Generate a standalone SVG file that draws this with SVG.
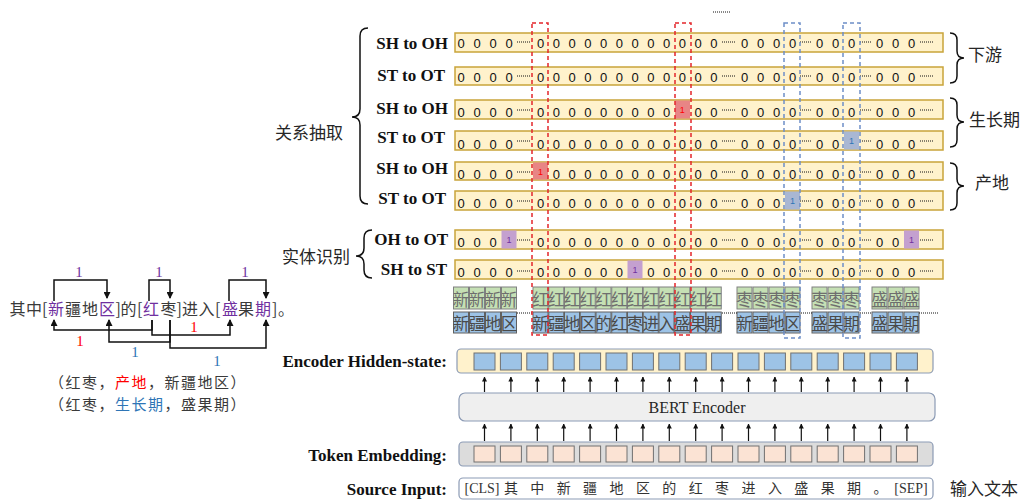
<svg xmlns="http://www.w3.org/2000/svg" width="1021" height="502" viewBox="0 0 1021 502">
<defs>
<style>
.lbl{font-family:"Liberation Serif","Times New Roman",serif;font-weight:bold;font-size:17px;fill:#111}
.cn{font-family:"Noto Sans CJK SC",sans-serif;font-size:17px;fill:#262626}
.bar{fill:#fff2cc;stroke:#c9a43a;stroke-width:1.5}
.dig{font-family:"Liberation Sans",Arial,sans-serif;font-size:13px;fill:#111;text-anchor:middle}
.one{font-family:"Liberation Sans",Arial,sans-serif;font-size:9px;text-anchor:middle}
.dots{stroke:#111;stroke-width:1;stroke-dasharray:1 1;fill:none}
.brace{fill:none;stroke:#111;stroke-width:1.5}
.gt{fill:#c5e0b4;stroke:#808080;stroke-width:1}
.bt{fill:#9dc3e6;stroke:#606060;stroke-width:1}
.tch{font-family:"Noto Sans CJK SC",sans-serif;font-size:16.5px;text-anchor:middle}
.rdash{fill:none;stroke:#e4262b;stroke-width:1.5;stroke-dasharray:4 3}
.bdash{fill:none;stroke:#6d8fc7;stroke-width:1.5;stroke-dasharray:4 3}
.conn{fill:none;stroke:#111;stroke-width:1.5}
.earr{fill:none;stroke:#111;stroke-width:1.2}
.sent{font-family:"Noto Sans CJK SC",sans-serif;font-size:16px;fill:#3a3a3a}
.trip{font-family:"Noto Sans CJK SC",sans-serif;font-size:15px;letter-spacing:1.5px;fill:#3a3a3a;text-anchor:middle}
.num{font-family:"Liberation Serif","Times New Roman",serif;font-size:15px;text-anchor:middle}
.hsq{fill:#9dc3e6;stroke:#707070;stroke-width:1}
.esq{fill:#fbe3d4;stroke:#707070;stroke-width:1}
.src{font-family:"Liberation Serif","Noto Sans CJK SC",serif;font-size:14px;fill:#333;text-anchor:middle}
</style>
<marker id="ah" markerWidth="7" markerHeight="7" refX="6" refY="3.5" orient="auto" markerUnits="userSpaceOnUse"><path d="M0,0 L7,3.5 L0,7 z" fill="#111"/></marker>
<marker id="ahs" markerWidth="5" markerHeight="5" refX="4.5" refY="2.5" orient="auto" markerUnits="userSpaceOnUse"><path d="M0,0 L5,2.5 L0,5 z" fill="#111"/></marker>
</defs>
<rect width="1021" height="502" fill="#fff"/>

<!-- left example -->
<g id="sentence">
<text class="sent" y="315"><tspan x="9.5">其</tspan><tspan x="26">中</tspan><tspan x="42">[</tspan><tspan x="48" fill="#7030a0">新</tspan><tspan x="65">疆</tspan><tspan x="82">地</tspan><tspan x="99" fill="#7030a0">区</tspan><tspan x="115.5">]</tspan><tspan x="120.5">的</tspan><tspan x="137">[</tspan><tspan x="143" fill="#7030a0">红</tspan><tspan x="160.5">枣</tspan><tspan x="176.5">]</tspan><tspan x="182">进</tspan><tspan x="198.5">入</tspan><tspan x="215">[</tspan><tspan x="222" fill="#7030a0">盛</tspan><tspan x="238">果</tspan><tspan x="255" fill="#7030a0">期</tspan><tspan x="272">]</tspan><tspan x="278">。</tspan></text>
</g>
<g id="sentence-links">
<path class="conn" d="M54 301 V280 H107 V298" marker-end="url(#ah)"/>
<path class="conn" d="M149 301 V280 H170 V298" marker-end="url(#ah)"/>
<path class="conn" d="M229 301 V280 H266 V298" marker-end="url(#ah)"/>
<path class="conn" d="M152 320 V330 H54 V320" marker-end="url(#ah)"/>
<path class="conn" d="M152 320 V335 H230 V320" marker-end="url(#ah)"/>
<path class="conn" d="M170 320 V342 H109 V320" marker-end="url(#ah)"/>
<path class="conn" d="M170 320 V348 H266 V320" marker-end="url(#ah)"/>
<text class="num" x="79" y="277" fill="#7030a0">1</text>
<text class="num" x="159" y="277" fill="#7030a0">1</text>
<text class="num" x="245" y="277" fill="#7030a0">1</text>
<text class="num" x="80" y="346" fill="#ff0000">1</text>
<text class="num" x="194" y="332" fill="#ff0000">1</text>
<text class="num" x="135" y="357" fill="#2e75b6">1</text>
<text class="num" x="217" y="366" fill="#2e75b6">1</text>
</g>
<g id="triples">
<text class="trip" x="148" y="388">（红枣，<tspan fill="#ff0000">产地</tspan>，新疆地区）</text>
<text class="trip" x="148" y="410">（红枣，<tspan fill="#2e75b6">生长期</tspan>，盛果期）</text>
</g>

<!-- group labels and braces -->
<g id="re-label">
<path class="brace" d="M368 28 Q360 28 360 36 V109 Q360 117 352 117 Q360 117 360 125 V196 Q360 204 368 204"/>
<text class="cn" x="275" y="139">关系抽取</text>
</g>
<g id="ner-label">
<path class="brace" d="M372 230 Q364 230 364 238 V248 Q364 256 356 256 Q364 256 364 264 V270 Q364 278 372 278"/>
<text class="cn" x="282" y="263">实体识别</text>
</g>
<g id="rel-xiayou">
<path class="brace" d="M950 33 Q957 33 957 40 V51 Q957 58 964 58 Q957 58 957 65 V76 Q957 83 950 83"/>
<text class="cn" x="968" y="61">下游</text>
</g>
<g id="rel-shengzhangqi">
<path class="brace" d="M950 98 Q957 98 957 105 V115 Q957 122 964 122 Q957 122 957 129 V140 Q957 147 950 147"/>
<text class="cn" x="969" y="126">生长期</text>
</g>
<g id="rel-chandi">
<path class="brace" d="M950 163 Q957 163 957 170 V179 Q957 186 964 186 Q957 186 957 193 V203 Q957 210 950 210"/>
<text class="cn" x="975" y="189">产地</text>
</g>
<path class="dots" d="M713 12 H731"/>

<!-- matrix rows -->
<g id="row1">
<text class="lbl" x="448" y="49" text-anchor="end">SH to OH</text>
<rect class="bar" x="455" y="33" width="488" height="19"/>
<text class="dig" x="461 477 493 509" y="48">0000</text>
<text class="dig" x="540.5 556.25 572 587.75 603.5 619.25 635 650.75 666.5 682.25 698 713.75" y="48">000000000000</text>
<text class="dig" x="744.5 760.5 776.5 792.5" y="48">0000</text>
<text class="dig" x="819.5 835.5 851.5" y="48">000</text>
<text class="dig" x="879.5 895.5 911.5" y="48">000</text>
<path class="dots" d="M517 42 H530 M722 42 H735 M800 42 H812 M860 42 H872 M920 42 H933"/>
</g>
<g id="row2">
<text class="lbl" x="445" y="81" text-anchor="end">ST to OT</text>
<rect class="bar" x="455" y="67" width="488" height="18"/>
<text class="dig" x="461 477 493 509" y="82">0000</text>
<text class="dig" x="540.5 556.25 572 587.75 603.5 619.25 635 650.75 666.5 682.25 698 713.75" y="82">000000000000</text>
<text class="dig" x="744.5 760.5 776.5 792.5" y="82">0000</text>
<text class="dig" x="819.5 835.5 851.5" y="82">000</text>
<text class="dig" x="879.5 895.5 911.5" y="82">000</text>
<path class="dots" d="M517 76 H530 M722 76 H735 M800 76 H812 M860 76 H872 M920 76 H933"/>
</g>
<g id="row3">
<text class="lbl" x="448" y="114" text-anchor="end">SH to OH</text>
<rect class="bar" x="455" y="100" width="488" height="19"/>
<rect x="675" y="100.5" width="15" height="18" fill="#e88585"/>
<text class="one" x="682.25" y="113" fill="#ff0000">1</text>
<text class="dig" x="461 477 493 509" y="117">0000</text>
<text class="dig" x="540.5 556.25 572 587.75 603.5 619.25 635 650.75 666.5" y="117">000000000</text>
<text class="dig" x="698 713.75" y="117">00</text>
<text class="dig" x="744.5 760.5 776.5 792.5" y="117">0000</text>
<text class="dig" x="819.5 835.5 851.5" y="117">000</text>
<text class="dig" x="879.5 895.5 911.5" y="117">000</text>
<path class="dots" d="M517 110 H530 M722 110 H735 M800 110 H812 M860 110 H872 M920 110 H933"/>
</g>
<g id="row4">
<text class="lbl" x="445" y="143" text-anchor="end">ST to OT</text>
<rect class="bar" x="455" y="131" width="488" height="19"/>
<rect x="844" y="131.5" width="15" height="18" fill="#a9b7d3"/>
<text class="one" x="851.5" y="144" fill="#2e75b6">1</text>
<text class="dig" x="461 477 493 509" y="149">0000</text>
<text class="dig" x="540.5 556.25 572 587.75 603.5 619.25 635 650.75 666.5 682.25 698 713.75" y="149">000000000000</text>
<text class="dig" x="744.5 760.5 776.5 792.5" y="149">0000</text>
<text class="dig" x="819.5 835.5" y="149">00</text>
<text class="dig" x="879.5 895.5 911.5" y="149">000</text>
<path class="dots" d="M517 141 H530 M722 141 H735 M800 141 H812 M860 141 H872 M920 141 H933"/>
</g>
<g id="row5">
<text class="lbl" x="448" y="174" text-anchor="end">SH to OH</text>
<rect class="bar" x="455" y="162" width="488" height="18"/>
<rect x="533" y="162.5" width="15" height="17" fill="#e88585"/>
<text class="one" x="540.5" y="175" fill="#ff0000">1</text>
<text class="dig" x="461 477 493 509" y="179">0000</text>
<text class="dig" x="556.25 572 587.75 603.5 619.25 635 650.75 666.5 682.25 698 713.75" y="179">00000000000</text>
<text class="dig" x="744.5 760.5 776.5 792.5" y="179">0000</text>
<text class="dig" x="819.5 835.5 851.5" y="179">000</text>
<text class="dig" x="879.5 895.5 911.5" y="179">000</text>
<path class="dots" d="M517 172 H530 M722 172 H735 M800 172 H812 M860 172 H872 M920 172 H933"/>
</g>
<g id="row6">
<text class="lbl" x="446" y="204" text-anchor="end">ST to OT</text>
<rect class="bar" x="455" y="191" width="488" height="19"/>
<rect x="785" y="191.5" width="15" height="18" fill="#a9b7d3"/>
<text class="one" x="792.5" y="204" fill="#2e75b6">1</text>
<text class="dig" x="461 477 493 509" y="208">0000</text>
<text class="dig" x="540.5 556.25 572 587.75 603.5 619.25 635 650.75 666.5 682.25 698 713.75" y="208">000000000000</text>
<text class="dig" x="744.5 760.5 776.5" y="208">000</text>
<text class="dig" x="819.5 835.5 851.5" y="208">000</text>
<text class="dig" x="879.5 895.5 911.5" y="208">000</text>
<path class="dots" d="M517 201 H530 M722 201 H735 M800 201 H812 M860 201 H872 M920 201 H933"/>
</g>
<g id="row7">
<text class="lbl" x="448" y="245" text-anchor="end">OH to OT</text>
<rect class="bar" x="455" y="230" width="488" height="19"/>
<rect x="501.5" y="230.5" width="15" height="18" fill="#c4a0cf"/>
<text class="one" x="509" y="243" fill="#7030a0">1</text>
<rect x="904" y="230.5" width="15" height="18" fill="#c4a0cf"/>
<text class="one" x="911.5" y="243" fill="#7030a0">1</text>
<text class="dig" x="461 477 493" y="247">000</text>
<text class="dig" x="540.5 556.25 572 587.75 603.5 619.25 635 650.75 666.5 682.25 698 713.75" y="247">000000000000</text>
<text class="dig" x="744.5 760.5 776.5 792.5" y="247">0000</text>
<text class="dig" x="819.5 835.5 851.5" y="247">000</text>
<text class="dig" x="879.5 895.5" y="247">00</text>
<path class="dots" d="M517 240 H530 M722 240 H735 M800 240 H812 M860 240 H872 M920 240 H933"/>
</g>
<g id="row8">
<text class="lbl" x="447" y="275" text-anchor="end">SH to ST</text>
<rect class="bar" x="455" y="260" width="488" height="19"/>
<rect x="627.5" y="260.5" width="15" height="18" fill="#c4a0cf"/>
<text class="one" x="635" y="273" fill="#7030a0">1</text>
<text class="dig" x="461 477 493 509" y="277">0000</text>
<text class="dig" x="540.5 556.25 572 587.75 603.5 619.25" y="277">000000</text>
<text class="dig" x="650.75 666.5 682.25 698 713.75" y="277">00000</text>
<text class="dig" x="744.5 760.5 776.5 792.5" y="277">0000</text>
<text class="dig" x="819.5 835.5 851.5" y="277">000</text>
<text class="dig" x="879.5 895.5 911.5" y="277">000</text>
<path class="dots" d="M517 271 H530 M722 271 H735 M800 271 H812 M860 271 H872 M920 271 H933"/>
</g>

<!-- token pair tiles -->
<g id="tiles">
<rect class="gt" x="453.5" y="287" width="15" height="22"/><rect class="gt" x="469.5" y="287" width="15" height="22"/><rect class="gt" x="485.5" y="287" width="15" height="22"/><rect class="gt" x="501.5" y="287" width="15" height="22"/>
<rect class="gt" x="533" y="287" width="15" height="22"/><rect class="gt" x="548.75" y="287" width="15" height="22"/><rect class="gt" x="564.5" y="287" width="15" height="22"/><rect class="gt" x="580.25" y="287" width="15" height="22"/><rect class="gt" x="596" y="287" width="15" height="22"/><rect class="gt" x="611.75" y="287" width="15" height="22"/><rect class="gt" x="627.5" y="287" width="15" height="22"/><rect class="gt" x="643.25" y="287" width="15" height="22"/><rect class="gt" x="659" y="287" width="15" height="22"/><rect class="gt" x="674.75" y="287" width="15" height="22"/><rect class="gt" x="690.5" y="287" width="15" height="22"/><rect class="gt" x="706.25" y="287" width="15" height="22"/>
<rect class="gt" x="737" y="287" width="15" height="22"/><rect class="gt" x="753" y="287" width="15" height="22"/><rect class="gt" x="769" y="287" width="15" height="22"/><rect class="gt" x="785" y="287" width="15" height="22"/>
<rect class="gt" x="812" y="287" width="15" height="22"/><rect class="gt" x="828" y="287" width="15" height="22"/><rect class="gt" x="844" y="287" width="15" height="22"/>
<rect class="gt" x="872" y="287" width="15" height="22"/><rect class="gt" x="888" y="287" width="15" height="22"/><rect class="gt" x="904" y="287" width="15" height="22"/>
<rect class="bt" x="453.5" y="312" width="15" height="21"/><rect class="bt" x="469.5" y="312" width="15" height="21"/><rect class="bt" x="485.5" y="312" width="15" height="21"/><rect class="bt" x="501.5" y="312" width="15" height="21"/>
<rect class="bt" x="533" y="312" width="15" height="21"/><rect class="bt" x="548.75" y="312" width="15" height="21"/><rect class="bt" x="564.5" y="312" width="15" height="21"/><rect class="bt" x="580.25" y="312" width="15" height="21"/><rect class="bt" x="596" y="312" width="15" height="21"/><rect class="bt" x="611.75" y="312" width="15" height="21"/><rect class="bt" x="627.5" y="312" width="15" height="21"/><rect class="bt" x="643.25" y="312" width="15" height="21"/><rect class="bt" x="659" y="312" width="15" height="21"/><rect class="bt" x="674.75" y="312" width="15" height="21"/><rect class="bt" x="690.5" y="312" width="15" height="21"/><rect class="bt" x="706.25" y="312" width="15" height="21"/>
<rect class="bt" x="737" y="312" width="15" height="21"/><rect class="bt" x="753" y="312" width="15" height="21"/><rect class="bt" x="769" y="312" width="15" height="21"/><rect class="bt" x="785" y="312" width="15" height="21"/>
<rect class="bt" x="812" y="312" width="15" height="21"/><rect class="bt" x="828" y="312" width="15" height="21"/><rect class="bt" x="844" y="312" width="15" height="21"/>
<rect class="bt" x="872" y="312" width="15" height="21"/><rect class="bt" x="888" y="312" width="15" height="21"/><rect class="bt" x="904" y="312" width="15" height="21"/>
<text class="tch" fill="#6e6e6e" y="306" x="461 477 493 509 540.5 556.25 572 587.75 603.5 619.25 635 650.75 666.5 682.25 698 713.75 744.5 760.5 776.5 792.5 819.5 835.5 851.5 879.5 895.5 911.5">新新新新红红红红红红红红红红红红枣枣枣枣枣枣枣盛盛盛</text>
<text class="tch" fill="#4a4a4a" y="330" x="461 477 493 509 540.5 556.25 572 587.75 603.5 619.25 635 650.75 666.5 682.25 698 713.75 744.5 760.5 776.5 792.5 819.5 835.5 851.5 879.5 895.5 911.5">新疆地区新疆地区的红枣进入盛果期新疆地区盛果期盛果期</text>
<path class="dots" d="M517 313 H532 M722 313 H737 M801 313 H812 M860 313 H872 M919 313 H938"/>
</g>

<!-- highlight columns -->
<g id="highlights">
<rect class="rdash" x="532" y="23" width="16" height="312"/>
<rect class="rdash" x="675" y="23" width="16" height="312"/>
<rect class="bdash" x="784" y="23" width="16" height="315"/>
<rect class="bdash" x="843" y="23" width="17" height="315"/>
</g>

<!-- encoder stack -->
<g id="hidden-state">
<text class="lbl" x="447" y="367" text-anchor="end">Encoder Hidden-state:</text>
<rect x="457" y="349" width="476" height="24" rx="4" fill="#fff2cc" stroke="#8c9bb5" stroke-width="1.2"/>
<rect class="hsq" x="474" y="353" width="21" height="17"/><rect class="hsq" x="500.4" y="353" width="21" height="17"/><rect class="hsq" x="526.8" y="353" width="21" height="17"/><rect class="hsq" x="553.2" y="353" width="21" height="17"/><rect class="hsq" x="579.6" y="353" width="21" height="17"/><rect class="hsq" x="606" y="353" width="21" height="17"/><rect class="hsq" x="632.4" y="353" width="21" height="17"/><rect class="hsq" x="658.8" y="353" width="21" height="17"/><rect class="hsq" x="685.2" y="353" width="21" height="17"/><rect class="hsq" x="711.6" y="353" width="21" height="17"/><rect class="hsq" x="738" y="353" width="21" height="17"/><rect class="hsq" x="764.4" y="353" width="21" height="17"/><rect class="hsq" x="790.8" y="353" width="21" height="17"/><rect class="hsq" x="817.2" y="353" width="21" height="17"/><rect class="hsq" x="843.6" y="353" width="21" height="17"/><rect class="hsq" x="870" y="353" width="21" height="17"/><rect class="hsq" x="896.4" y="353" width="21" height="17"/>
</g>
<g id="bert">
<rect x="459" y="393" width="476" height="28" rx="6" fill="#efefef" stroke="#8c9bb5" stroke-width="1.2"/>
<text x="697" y="413" text-anchor="middle" font-family="Liberation Serif, Times New Roman, serif" font-size="16" fill="#262626">BERT Encoder</text>
</g>
<g id="token-embedding">
<text class="lbl" x="447" y="461" text-anchor="end">Token Embedding:</text>
<rect x="459" y="442" width="474" height="24" rx="4" fill="#dcdcdc" stroke="#8c9bb5" stroke-width="1.2"/>
<rect class="esq" x="474" y="446" width="21" height="16"/><rect class="esq" x="500.4" y="446" width="21" height="16"/><rect class="esq" x="526.8" y="446" width="21" height="16"/><rect class="esq" x="553.2" y="446" width="21" height="16"/><rect class="esq" x="579.6" y="446" width="21" height="16"/><rect class="esq" x="606" y="446" width="21" height="16"/><rect class="esq" x="632.4" y="446" width="21" height="16"/><rect class="esq" x="658.8" y="446" width="21" height="16"/><rect class="esq" x="685.2" y="446" width="21" height="16"/><rect class="esq" x="711.6" y="446" width="21" height="16"/><rect class="esq" x="738" y="446" width="21" height="16"/><rect class="esq" x="764.4" y="446" width="21" height="16"/><rect class="esq" x="790.8" y="446" width="21" height="16"/><rect class="esq" x="817.2" y="446" width="21" height="16"/><rect class="esq" x="843.6" y="446" width="21" height="16"/><rect class="esq" x="870" y="446" width="21" height="16"/><rect class="esq" x="896.4" y="446" width="21" height="16"/>
</g>
<g id="source-input">
<text class="lbl" x="447" y="495" text-anchor="end">Source Input:</text>
<rect x="459" y="478" width="474" height="21" rx="4" fill="#fff" stroke="#8c9bb5" stroke-width="1.2"/>
<text class="src" y="493"><tspan x="482">[CLS]</tspan><tspan x="510.9">其</tspan><tspan x="537.3">中</tspan><tspan x="563.7">新</tspan><tspan x="590.1">疆</tspan><tspan x="616.5">地</tspan><tspan x="642.9">区</tspan><tspan x="669.3">的</tspan><tspan x="695.7">红</tspan><tspan x="722.1">枣</tspan><tspan x="748.5">进</tspan><tspan x="774.9">入</tspan><tspan x="801.3">盛</tspan><tspan x="827.7">果</tspan><tspan x="854.1">期</tspan><tspan x="880.5">。</tspan><tspan x="911">[SEP]</tspan></text>
<text class="cn" x="950" y="495" font-size="16">输入文本</text>
</g>

<g id="connectors">
<g class="earr" marker-end="url(#ahs)">
<path d="M484.5 392 V377"/><path d="M510.9 392 V377"/><path d="M537.3 392 V377"/><path d="M563.7 392 V377"/><path d="M590.1 392 V377"/><path d="M616.5 392 V377"/><path d="M642.9 392 V377"/><path d="M669.3 392 V377"/><path d="M695.7 392 V377"/><path d="M722.1 392 V377"/><path d="M748.5 392 V377"/><path d="M774.9 392 V377"/><path d="M801.3 392 V377"/><path d="M827.7 392 V377"/><path d="M854.1 392 V377"/><path d="M880.5 392 V377"/><path d="M906.9 392 V377"/>
<path d="M484.5 441 V424"/><path d="M510.9 441 V424"/><path d="M537.3 441 V424"/><path d="M563.7 441 V424"/><path d="M590.1 441 V424"/><path d="M616.5 441 V424"/><path d="M642.9 441 V424"/><path d="M669.3 441 V424"/><path d="M695.7 441 V424"/><path d="M722.1 441 V424"/><path d="M748.5 441 V424"/><path d="M774.9 441 V424"/><path d="M801.3 441 V424"/><path d="M827.7 441 V424"/><path d="M854.1 441 V424"/><path d="M880.5 441 V424"/><path d="M906.9 441 V424"/>
</g>
</g>
</svg>
